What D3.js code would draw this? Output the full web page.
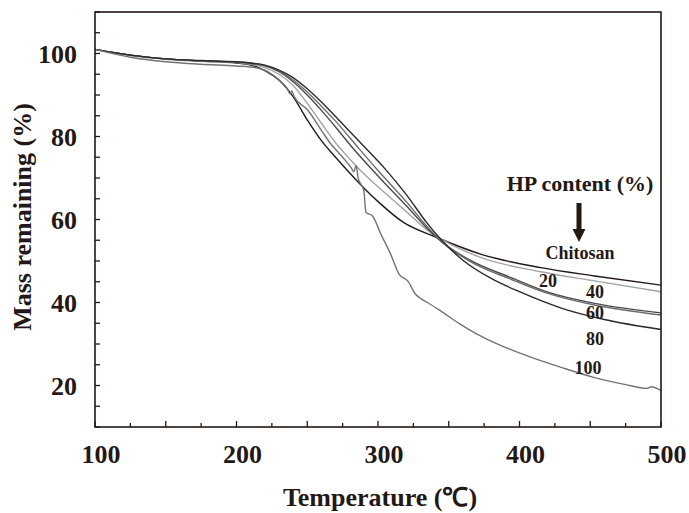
<!DOCTYPE html>
<html>
<head>
<meta charset="utf-8">
<script src="https://cdn.jsdelivr.net/npm/d3@7"></script>
<style>
  body { margin: 0; background: #fff; }
  text { font-family: "Liberation Serif", "Times New Roman", serif; font-weight: bold; fill: #231815; }
</style>
</head>
<body>
<div id="chart"></div>
<script>
// TGA curves, [temperature (°C), mass remaining (%)]
const chitosan = [[100,101],[125,99.6],[150,98.7],[175,98.2],[200,97.7],[210,97.2],[220,95.9],[230,93.6],[240,89.6],[250,84],[260,79],[270,75],[280,71.2],[290,67.6],[302,63.7],[318,59.3],[340,55.9],[373,51.6],[415,48.4],[453,46.4],[500,44.2]];
const hp20 = [[100,101],[125,99.5],[150,98.6],[175,98.1],[200,97.8],[210,97.4],[220,96.6],[230,95],[240,92.3],[250,88],[260,83.2],[270,78.5],[280,74.6],[290,71],[302,67.3],[318,62.5],[337,56.9],[355,53.4],[373,50.8],[415,47.4],[453,45.2],[500,42.6]];
const hp40 = [[100,101],[125,99.6],[150,98.7],[175,98.2],[200,97.9],[210,97.6],[220,97],[230,95.6],[240,93.2],[250,90],[260,86.3],[270,82.3],[282,77.3],[300,70.5],[320,63.3],[335,57.8],[345,54.6],[365,50.2],[394,46],[420,42.5],[453,39.8],[500,37.5]];
const hp60 = [[100,101],[125,99.6],[150,98.7],[175,98.2],[200,97.9],[210,97.7],[220,97.1],[230,95.8],[240,93.6],[250,90.7],[260,87.3],[270,83.7],[286,77.3],[300,71.8],[320,64.3],[335,58.2],[345,54.7],[365,49.9],[394,45.6],[420,42.2],[453,39.4],[500,37]];
const hp80 = [[100,101],[125,99.6],[150,98.7],[175,98.3],[200,98],[210,97.7],[220,97.2],[230,96],[240,94.2],[250,91.5],[260,88.3],[270,84.8],[280,81.2],[291,77.3],[305,72.2],[320,66],[335,59],[345,55],[360,50.2],[380,45.8],[400,42.6],[430,38.6],[460,35.9],[500,33.5]];
const hp100 = [[100,101],[125,99.1],[150,98],[175,97.4],[200,97],[215,96.5],[225,95],[232,93],[236,91.5],[238,90.2],[239,91],[241,89.5],[250,86.5],[260,81.5],[266,78.5],[275,75],[281,72.5],[283,71.5],[284.5,73],[286,70],[290,66.9],[291.5,61.7],[296,60.9],[302,56.5],[309,51.6],[315,46.8],[321,45.2],[326.5,42],[330,41],[335,40],[345,37.8],[358,34.8],[370,32.4],[385,29.9],[405,27.2],[430,24.3],[453,21.9],[475,20.2],[490,19.3],[493,19.7],[500,18.8]];

const seriesNames = ["Chitosan", "20", "40", "60", "80", "100"];
const seriesData = [chitosan, hp20, hp40, hp60, hp80, hp100];
const seriesColors = ["#231815", "#a3a3a3", "#4a4a4a", "#6c6c6c", "#2a2a2a", "#737373"];

const xTickLabels = [100, 200, 300, 400, 500];
const yTickLabels = [20, 40, 60, 80, 100];

const width = 689, height = 513;
const margin = { top: 12, right: 28, bottom: 86, left: 95 };

const svg = d3.select("#chart").append("svg")
    .attr("width", width)
    .attr("height", height);

const x = d3.scaleLinear().domain([100, 500]).range([margin.left, width - margin.right]);
const y = d3.scaleLinear().domain([10, 110]).range([height - margin.bottom, margin.top]);

// ticks point inward
const xMinor = d3.range(100, 501, 25);
svg.append("g").selectAll("line")
    .data(xMinor)
    .join("line")
    .attr("x1", d => x(d)).attr("x2", d => x(d))
    .attr("y1", y(10)).attr("y2", d => y(10) - (d % 50 === 0 ? 6 : 4))
    .attr("stroke", "#231815").attr("stroke-width", 1.3);

const yMinor = d3.range(10, 111, 5);
svg.append("g").selectAll("line")
    .data(yMinor)
    .join("line")
    .attr("x1", x(100)).attr("x2", x(100) + 5)
    .attr("y1", d => y(d)).attr("y2", d => y(d))
    .attr("stroke", "#231815").attr("stroke-width", 1.3);

// tick labels
svg.append("g").selectAll("text")
    .data(xTickLabels)
    .join("text")
    .attr("x", d => x(d) + 6)
    .attr("y", y(10) + 36)
    .attr("text-anchor", "middle")
    .style("font-size", "26px")
    .text(d => d);

svg.append("g").selectAll("text")
    .data(yTickLabels)
    .join("text")
    .attr("x", x(100) - 18)
    .attr("y", d => y(d) + 9)
    .attr("text-anchor", "end")
    .style("font-size", "26px")
    .text(d => d);

// curves
const line = d3.line()
    .x(d => x(d[0]))
    .y(d => y(d[1]))
    .curve(d3.curveMonotoneX);

seriesData.forEach((s, i) => {
    svg.append("path")
        .datum(s)
        .attr("fill", "none")
        .attr("stroke", seriesColors[i])
        .attr("stroke-width", 1.4)
        .attr("d", line);
});

// frame
svg.append("rect")
    .attr("x", x(100)).attr("y", y(110))
    .attr("width", x(500) - x(100))
    .attr("height", y(10) - y(110))
    .attr("fill", "none")
    .attr("stroke", "#231815")
    .attr("stroke-width", 1.6);

// axis titles
svg.append("text")
    .attr("x", 380).attr("y", 506)
    .attr("text-anchor", "middle")
    .style("font-size", "26px")
    .text("Temperature (℃)");

svg.append("text")
    .attr("transform", "translate(31,217) rotate(-90)")
    .attr("text-anchor", "middle")
    .style("font-size", "26px")
    .text("Mass remaining (%)");

// legend annotation
svg.append("text")
    .attr("x", 580).attr("y", 191)
    .attr("text-anchor", "middle")
    .style("font-size", "22px")
    .text("HP content (%)");

const ax = 579;
svg.append("rect")
    .attr("x", ax - 2.5).attr("y", 203)
    .attr("width", 5).attr("height", 28)
    .attr("fill", "#231815");
svg.append("path")
    .attr("d", `M${ax - 6.5},229 L${ax + 6.5},229 L${ax},242 Z`)
    .attr("fill", "#231815");

const labelPos = [[580, 259], [548, 287], [595, 298], [595, 319], [595, 345], [588, 374]];
seriesNames.forEach((n, i) => {
    svg.append("text")
        .attr("x", labelPos[i][0]).attr("y", labelPos[i][1])
        .attr("text-anchor", "middle")
        .style("font-size", "18px")
        .text(n);
});
</script>
</body>
</html>
